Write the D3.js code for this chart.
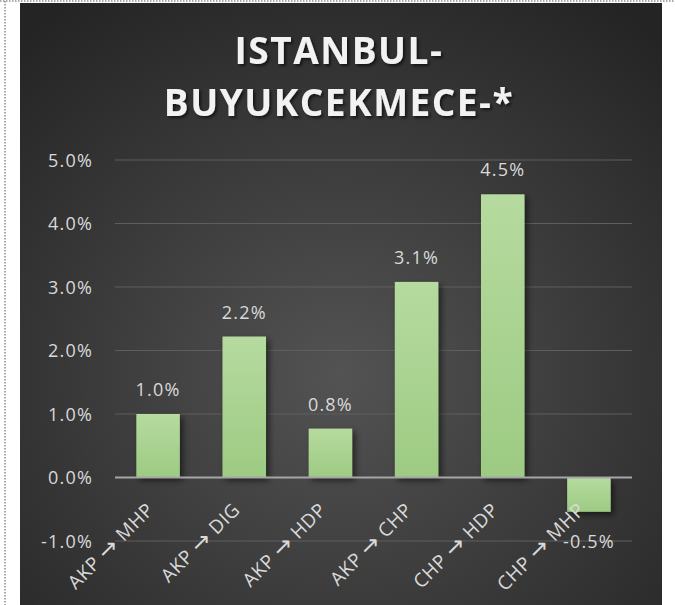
<!DOCTYPE html>
<html>
<head>
<meta charset="utf-8">
<script src="https://cdn.jsdelivr.net/npm/d3@7"></script>
<style>
  html, body { margin: 0; padding: 0; background: #fff; }
  svg { display: block; }
</style>
</head>
<body>
<svg id="chart" width="675" height="605"></svg>
<script>
// data
var categories = ["AKP → MHP", "AKP → DIG", "AKP → HDP", "AKP → CHP", "CHP → HDP", "CHP → MHP"];
var values = [1.0, 2.22, 0.77, 3.08, 4.46, -0.54];
var yTicks = [-1, 0, 1, 2, 3, 4, 5];
var titleLines = ["ISTANBUL-", "BUYUKCEKMECE-*"];

var svg = d3.select("#chart");
var defs = svg.append("defs");

// panel background
var bg = defs.append("radialGradient").attr("id", "bg")
    .attr("cx", "50%").attr("cy", "62%").attr("r", "75%");
bg.append("stop").attr("offset", "0%").attr("stop-color", "#535353");
bg.append("stop").attr("offset", "100%").attr("stop-color", "#242424");

var barGrad = defs.append("linearGradient").attr("id", "barGrad")
    .attr("x1", 0).attr("y1", 0).attr("x2", 0).attr("y2", 1);
barGrad.append("stop").attr("offset", "0%").attr("stop-color", "#b6da9f");
barGrad.append("stop").attr("offset", "100%").attr("stop-color", "#9dcb83");

var shadow = defs.append("filter").attr("id", "shadow")
    .attr("x", "-30%").attr("y", "-30%").attr("width", "160%").attr("height", "160%");
shadow.append("feDropShadow").attr("dx", 3).attr("dy", 3).attr("stdDeviation", 3)
    .attr("flood-color", "#000").attr("flood-opacity", 0.55);

var tshadow = defs.append("filter").attr("id", "tshadow")
    .attr("x", "-10%").attr("y", "-30%").attr("width", "120%").attr("height", "160%");
tshadow.append("feDropShadow").attr("dx", 2).attr("dy", 2).attr("stdDeviation", 1.5)
    .attr("flood-color", "#000").attr("flood-opacity", 0.6);

// dotted frame of the screenshot
svg.append("line").attr("x1", 0).attr("x2", 675).attr("y1", 1).attr("y2", 1)
    .attr("stroke", "#555").attr("stroke-dasharray", "1.5,1.5");
svg.append("line").attr("x1", 5).attr("x2", 5).attr("y1", 1).attr("y2", 605)
    .attr("stroke", "#555").attr("stroke-dasharray", "1.5,1.5");

svg.append("rect").attr("x", 20).attr("y", 3).attr("width", 642).attr("height", 602)
    .attr("fill", "url(#bg)");

var font = "'Open Sans', sans-serif";

// title
svg.append("text")
    .attr("x", 339).attr("y", 64)
    .attr("text-anchor", "middle")
    .attr("font-family", font).attr("font-weight", "bold")
    .attr("font-size", 37).attr("letter-spacing", 1.5)
    .attr("fill", "#f2f2f2").attr("filter", "url(#tshadow)")
    .selectAll("tspan").data(titleLines).enter().append("tspan")
    .attr("x", 339).attr("dy", function (d, i) { return i === 0 ? 0 : 52; })
    .text(function (d) { return d; });

var x = d3.scaleBand().domain(categories).range([115, 632]).paddingInner(0.495).paddingOuter(0.2475);
var y = d3.scaleLinear().domain([-1, 5]).range([541, 160]);

// gridlines
svg.append("g").selectAll("line").data(yTicks.filter(function (t) { return t !== 0; })).enter()
    .append("line")
    .attr("x1", 115).attr("x2", 632)
    .attr("y1", function (d) { return y(d); }).attr("y2", function (d) { return y(d); })
    .attr("stroke", "#5e5e5e").attr("stroke-width", 1.2);

// y axis labels
var yAxis = d3.axisLeft(y).tickValues(yTicks).tickSize(0).tickPadding(0)
    .tickFormat(function (d) { return d.toFixed(1) + "%"; });
var gy = svg.append("g").attr("transform", "translate(93,0)").call(yAxis);
gy.select(".domain").remove();
gy.selectAll("text").attr("font-family", font).attr("font-size", 18)
    .attr("letter-spacing", 1.2).attr("fill", "#d9d9d9").attr("dy", "0.36em");

// bars
svg.append("g").selectAll("rect").data(values).enter().append("rect")
    .attr("x", function (d, i) { return x(categories[i]); })
    .attr("width", x.bandwidth())
    .attr("y", function (d) { return y(Math.max(0, d)); })
    .attr("height", function (d) { return Math.abs(y(d) - y(0)); })
    .attr("fill", "url(#barGrad)")
    .attr("filter", "url(#shadow)");

// zero line
svg.append("line").attr("x1", 115).attr("x2", 632).attr("y1", y(0)).attr("y2", y(0))
    .attr("stroke", "#a6a6a6").attr("stroke-width", 2);

// data labels
svg.append("g").selectAll("text").data(values).enter().append("text")
    .attr("x", function (d, i) { return x(categories[i]) + x.bandwidth() / 2; })
    .attr("y", function (d) { return d >= 0 ? y(d) - 18 : y(d) + 36; })
    .attr("text-anchor", "middle")
    .attr("font-family", font).attr("font-size", 18).attr("letter-spacing", 1.2)
    .attr("fill", "#d9d9d9")
    .text(function (d) { return d.toFixed(1) + "%"; });

// category labels, rotated; the arrow gets its own font so it is drawn full size
var xl = svg.append("g").selectAll("text").data(categories).enter().append("text")
    .attr("transform", function (d) {
        return "translate(" + (x(d) + x.bandwidth() / 2 - 3) + ",511) rotate(-45)";
    })
    .attr("text-anchor", "end")
    .attr("font-family", font).attr("font-size", 19).attr("letter-spacing", 0.6)
    .attr("fill", "#d9d9d9");
xl.each(function (d) {
    var parts = d.split("→");
    var t = d3.select(this);
    t.append("tspan").text(parts[0]);
    t.append("tspan").attr("font-family", "'DejaVu Sans', sans-serif").attr("font-size", 23)
        .attr("dy", 1).text("→");
    t.append("tspan").attr("dy", -1).text(parts[1]);
});
</script>
</body>
</html>
